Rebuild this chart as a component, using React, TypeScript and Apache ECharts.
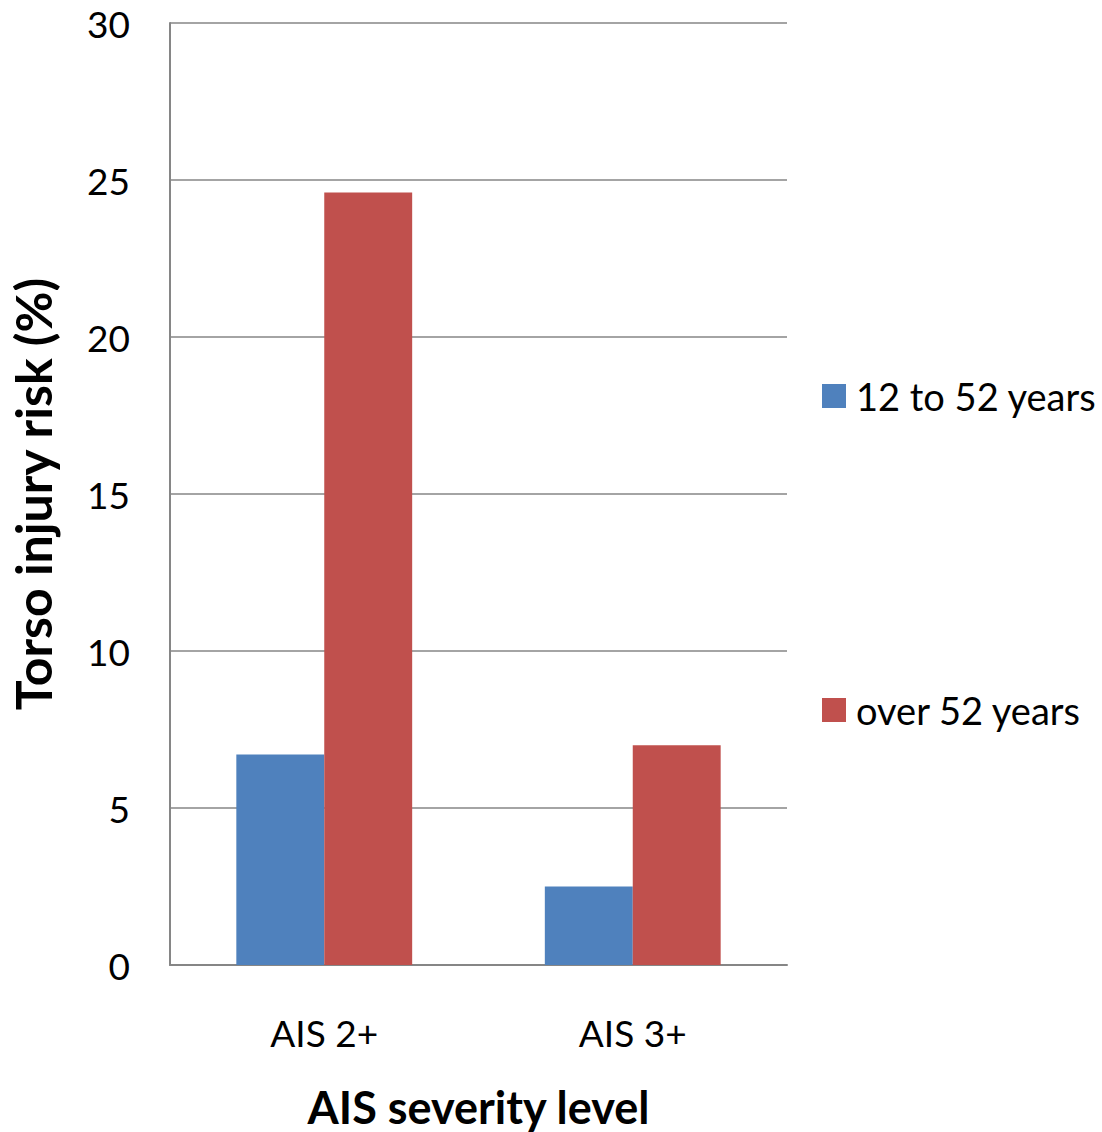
import React, { useEffect, useRef } from "react";
import * as echarts from "echarts";

// Torso injury risk by AIS severity level and occupant age group
const categories = ["AIS 2+", "AIS 3+"];
const youngerRisk = [6.7, 2.5];
const olderRisk = [24.6, 7.0];
const seriesNames = ["12 to 52 years", "over 52 years"];

const FONT = "Lato, 'Open Sans', sans-serif";

export default function App() {
  const ref = useRef<HTMLDivElement>(null);

  useEffect(() => {
    if (!ref.current) return;
    const chart = echarts.init(ref.current, undefined, { renderer: "svg" });
    chart.setOption({
      animation: false,
      textStyle: { fontFamily: FONT },
      grid: { left: 170, top: 23, right: 315, bottom: 167, outerBoundsMode: "none", containLabel: false },
      legend: {
        orient: "vertical",
        left: 817,
        top: 372,
        itemWidth: 24,
        itemHeight: 24,
        itemGap: 276,
        icon: "rect",
        data: seriesNames,
        textStyle: { fontFamily: FONT, fontSize: 38, color: "#000", padding: [0, 0, 0, 5] },
      },
      xAxis: {
        type: "category",
        data: categories,
        axisLine: { lineStyle: { color: "#868686", width: 2 } },
        axisTick: { show: false },
        axisLabel: { fontFamily: FONT, fontSize: 37, color: "#000", margin: 49 },
        name: "AIS severity level",
        nameLocation: "middle",
        nameGap: 119,
        nameTextStyle: { fontFamily: FONT, fontSize: 45, fontWeight: "bold", color: "#000" },
      },
      yAxis: {
        type: "value",
        min: 0,
        max: 30,
        interval: 5,
        axisLine: { show: true, lineStyle: { color: "#868686", width: 2 } },
        axisTick: { show: false },
        splitLine: { lineStyle: { color: "#868686", width: 1.5 } },
        axisLabel: { fontFamily: FONT, fontSize: 37, color: "#000", margin: 40 },
        name: "Torso injury risk (%)",
        nameLocation: "middle",
        nameGap: 112,
        nameTextStyle: { fontFamily: FONT, fontSize: 50, fontWeight: "bold", color: "#000" },
      },
      series: [
        {
          name: seriesNames[0],
          type: "bar",
          data: youngerRisk,
          barGap: "0%",
          barCategoryGap: "43%",
          itemStyle: { color: "#4F81BD" },
        },
        {
          name: seriesNames[1],
          type: "bar",
          data: olderRisk,
          barGap: "0%",
          barCategoryGap: "43%",
          itemStyle: { color: "#C0504D" },
        },
      ],
    });
    return () => chart.dispose();
  }, []);

  return (
    <div
      ref={ref}
      style={{ position: "absolute", left: 0, top: 0, width: 1102, height: 1132, background: "#fff" }}
    />
  );
}
